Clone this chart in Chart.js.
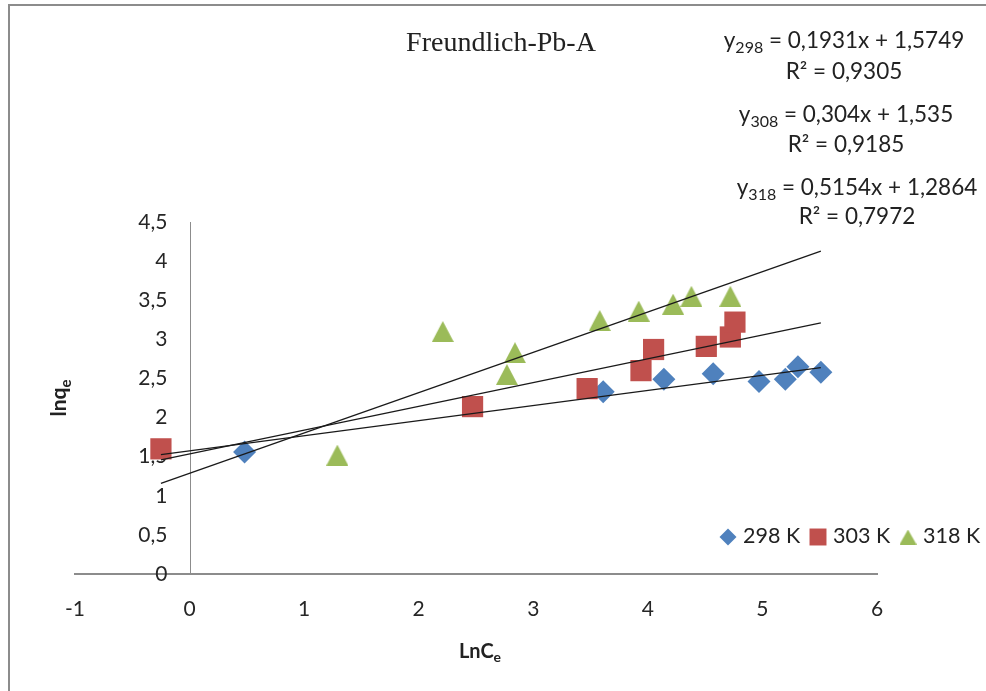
<!DOCTYPE html>
<html>
<head>
<meta charset="utf-8">
<script src="https://cdn.jsdelivr.net/npm/chart.js@4.4.1/dist/chart.umd.min.js"></script>
<style>
html, body { margin: 0; padding: 0; background: #fff; overflow: hidden; }
#wrap { position: relative; width: 986px; height: 691px; }
#frame { position: absolute; left: 8px; top: 4px; right: 0; bottom: 0; border-left: 2px solid #8c8c8c; border-top: 2px solid #8c8c8c; pointer-events: none; }
</style>
</head>
<body>
<div id="wrap">
  <canvas id="lineChart" width="986" height="691"></canvas>
  <div id="frame"></div>
</div>
<script>
const CHART = document.getElementById("lineChart");

// values (lnCe, lnqe)
const seriesNames = ["298 K", "303 K", "318 K"];
const x298 = [0.48, 3.61, 4.14, 4.57, 4.97, 5.20, 5.31, 5.51];
const y298 = [1.56, 2.33, 2.49, 2.56, 2.46, 2.49, 2.65, 2.58];
const x303 = [-0.25, 2.47, 3.47, 3.94, 4.05, 4.51, 4.72, 4.76];
const y303 = [1.60, 2.14, 2.37, 2.60, 2.87, 2.91, 3.03, 3.22];
const x318 = [1.29, 2.21, 2.77, 2.84, 3.58, 3.92, 4.22, 4.38, 4.72];
const y318 = [1.52, 3.10, 2.55, 2.83, 3.24, 3.36, 3.45, 3.55, 3.55];

// trendlines as printed on the chart
const eqTemps = ["298", "308", "318"];
const slopes = [0.1931, 0.304, 0.5154];
const intercepts = [1.5749, 1.535, 1.2864];
const r2 = ["0,9305", "0,9185", "0,7972"];
const trendRange = [-0.25, 5.51];

// axis ticks
const xTicks = [-1, 0, 1, 2, 3, 4, 5, 6];
const xTickLabels = ["-1", "0", "1", "2", "3", "4", "5", "6"];
const yTicks = [0, 0.5, 1, 1.5, 2, 2.5, 3, 3.5, 4, 4.5];
const yTickLabels = ["0", "0,5", "1", "1,5", "2", "2,5", "3", "3,5", "4", "4,5"];

const chartTitle = "Freundlich-Pb-A";
const colors = ["#4F81BD", "#C0504D", "#9BBB59"];

// excel-like triangle, centred on its box
function triangleImg(w, h, color) {
    const c = document.createElement("canvas");
    c.width = w; c.height = h;
    const g = c.getContext("2d");
    g.fillStyle = color;
    g.beginPath();
    g.moveTo(w / 2, 0);
    g.lineTo(w, h);
    g.lineTo(0, h);
    g.closePath();
    g.fill();
    return c;
}
const triBig = triangleImg(22, 21, colors[2]);
const triSmall = triangleImg(17, 15, colors[2]);

const styles = ["rectRot", "rect", triBig];
const radii = [11.5, 15, 11];

const pts = (xs, ys) => xs.map((v, i) => ({ x: v, y: ys[i] }));
const comma = v => String(v).replace(".", ",");

const trendSets = slopes.map((m, i) => ({
    label: "trend " + eqTemps[i],
    data: trendRange.map(v => ({ x: v, y: m * v + intercepts[i] })),
    showLine: true,
    borderColor: "#1a1a1a",
    borderWidth: 1.3,
    pointRadius: 0,
    order: 0
}));

const pointSets = [[x298, y298], [x303, y303], [x318, y318]].map((s, i) => ({
    label: seriesNames[i],
    data: pts(s[0], s[1]),
    pointStyle: styles[i],
    pointRadius: radii[i],
    pointHoverRadius: radii[i],
    backgroundColor: colors[i],
    borderColor: colors[i],
    pointBorderWidth: 0,
    showLine: false,
    order: 3 - i
}));

// draws text with sub parts, centred on cx, baseline at by
function richText(ctx, parts, cx, by, size, bold) {
    const big = (bold ? "bold " : "") + size + "px Lato";
    const small = (bold ? "bold " : "") + Math.round(size * 0.72) + "px Lato";
    let w = 0;
    parts.forEach(p => { ctx.font = p.sub ? small : big; w += ctx.measureText(p.t).width; });
    let xx = cx - w / 2;
    ctx.textAlign = "left";
    ctx.textBaseline = "alphabetic";
    parts.forEach(p => {
        ctx.font = p.sub ? small : big;
        ctx.fillText(p.t, xx, by + (p.sub ? size * 0.22 : 0));
        xx += ctx.measureText(p.t).width;
    });
}

const decor = {
    id: "decor",
    beforeDatasetsDraw(chart) {
        const { ctx, chartArea, scales } = chart;
        const x0 = Math.round(scales.x.getPixelForValue(0)) + 0.5;
        ctx.save();
        ctx.strokeStyle = "#8c8c8c";
        ctx.lineWidth = 1;
        ctx.beginPath();
        ctx.moveTo(x0, chartArea.top);
        ctx.lineTo(x0, chartArea.bottom);
        ctx.stroke();
        ctx.fillStyle = "#262626";
        ctx.font = "21px Lato";
        ctx.textAlign = "right";
        ctx.textBaseline = "middle";
        yTicks.forEach((v, i) => ctx.fillText(yTickLabels[i], x0 - 23, scales.y.getPixelForValue(v)));
        ctx.restore();
    },
    afterDraw(chart) {
        const ctx = chart.ctx;
        ctx.save();
        ctx.fillStyle = "#222";

        // title
        ctx.font = "28px 'Liberation Serif'";
        ctx.textAlign = "center";
        ctx.textBaseline = "alphabetic";
        ctx.fillText(chartTitle, 501, 51);

        // equations
        const eqX = [844, 846, 857];
        const eqY = [[48, 79], [122, 152], [195, 224]];
        slopes.forEach((m, i) => {
            richText(ctx, [{ t: "y" }, { t: eqTemps[i], sub: true },
                { t: " = " + comma(m) + "x + " + comma(intercepts[i]) }], eqX[i], eqY[i][0], 22.5, false);
            richText(ctx, [{ t: "R\u00B2 = " + r2[i] }], eqX[i], eqY[i][1], 22.5, false);
        });

        // axis titles
        richText(ctx, [{ t: "LnC" }, { t: "e", sub: true }], 480, 658, 20, true);
        ctx.translate(66, 398);
        ctx.rotate(-Math.PI / 2);
        richText(ctx, [{ t: "lnq" }, { t: "e", sub: true }], 0, 0, 21, true);
        ctx.setTransform(1, 0, 0, 1, 0, 0);

        // legend
        const legX = [728, 818, 908];
        const legR = [8.5, 12, 9];
        seriesNames.forEach((name, i) => {
            ctx.fillStyle = colors[i];
            const st = i === 2 ? triSmall : styles[i];
            Chart.helpers.drawPoint(ctx, { pointStyle: st, radius: legR[i], rotation: 0, borderWidth: 0 }, legX[i], 537);
            ctx.fillStyle = "#222";
            ctx.font = "21.5px Lato";
            ctx.textAlign = "left";
            ctx.textBaseline = "middle";
            ctx.fillText(name, legX[i] + 15, 536);
        });
        ctx.restore();
    }
};

let lineChart = new Chart(CHART, {
    type: "scatter",
    data: { datasets: trendSets.concat(pointSets) },
    options: {
        responsive: false,
        animation: false,
        devicePixelRatio: 1,
        layout: { padding: { left: 75, right: 109, top: 222, bottom: 67 } },
        plugins: { legend: { display: false }, tooltip: { enabled: false } },
        scales: {
            x: {
                type: "linear", min: -1, max: 6,
                afterBuildTicks: s => { s.ticks = xTicks.map(v => ({ value: v })); },
                afterFit: s => { s.height = 50; },
                grid: { display: false, drawTicks: false },
                border: { display: true, color: "#8c8c8c", width: 2 },
                ticks: {
                    padding: 23, color: "#262626", font: { family: "Lato", size: 21 },
                    callback: v => xTickLabels[xTicks.indexOf(v)]
                }
            },
            y: {
                type: "linear", min: 0, max: 4.5, display: false,
                afterBuildTicks: s => { s.ticks = yTicks.map(v => ({ value: v })); }
            }
        }
    },
    plugins: [decor]
});
</script>
</body>
</html>
